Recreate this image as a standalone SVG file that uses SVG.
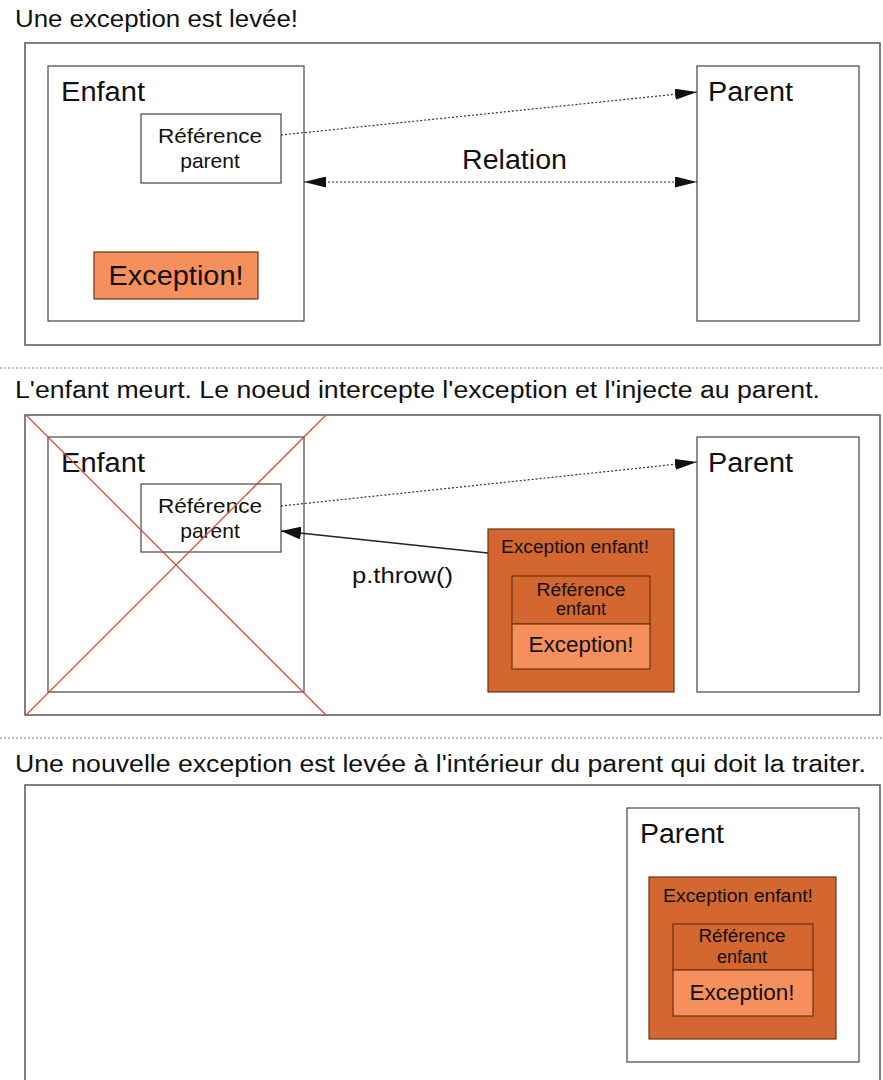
<svg xmlns="http://www.w3.org/2000/svg" width="883" height="1080" viewBox="0 0 883 1080">
  <style>
    text { font-family: "Liberation Sans", Arial, sans-serif; fill: #111; }
    .title { font-size: 23px; }
    .big { font-size: 27px; }
    .mid { font-size: 21px; }
    .small { font-size: 18px; }
    .exc { font-size: 22px; }
    .frame { fill: #fff; stroke: #555; stroke-width: 1.5; }
    .box { fill: #fff; stroke: #444; stroke-width: 1.2; }
    .dark { fill: #d4662f; stroke: #6b3215; stroke-width: 1.2; }
    .light { fill: #f5905c; stroke: #6b3215; stroke-width: 1.2; }
    .sep { stroke: #777; stroke-width: 1; stroke-dasharray: 2 2; }
    .dot { stroke: #333; stroke-width: 1.2; stroke-dasharray: 2 2; fill: none; }
    .solid { stroke: #222; stroke-width: 1.4; fill: none; }
    .cross { stroke: #d0533a; stroke-width: 1.3; }
  </style>
  <defs>
    <marker id="arrowL" viewBox="0 0 22 11" refX="22" refY="5.5" markerWidth="22" markerHeight="11" markerUnits="userSpaceOnUse" orient="auto-start-reverse">
      <path d="M0,0 L22,5.5 L0,11 z" fill="#111"/>
    </marker>
    <marker id="arrowS" viewBox="0 0 20 13" refX="20" refY="6.5" markerWidth="20" markerHeight="13" markerUnits="userSpaceOnUse" orient="auto">
      <path d="M0,0 L20,6.5 L0,13 z" fill="#111"/>
    </marker>
  </defs>
  <rect width="883" height="1080" fill="#fff"/>

  <!-- Step 1 -->
  <g id="step1">
    <text class="title" x="15" y="27" textLength="283" lengthAdjust="spacingAndGlyphs">Une exception est levée!</text>
    <rect class="frame" x="25" y="43" width="855" height="302"/>
  </g>
  <g id="enfant1">
    <rect class="box" x="48" y="66" width="256" height="255"/>
    <text class="big" x="61" y="101" textLength="84" lengthAdjust="spacingAndGlyphs">Enfant</text>
  </g>
  <g id="refparent1">
    <rect class="box" x="141" y="114" width="140" height="69"/>
    <text class="mid" x="210" y="143" text-anchor="middle" textLength="104" lengthAdjust="spacingAndGlyphs">Référence</text>
    <text class="mid" x="210" y="168" text-anchor="middle">parent</text>
  </g>
  <g id="exception1">
    <rect class="light" x="94" y="252" width="164" height="47"/>
    <text class="big" x="176" y="285" text-anchor="middle" textLength="135" lengthAdjust="spacingAndGlyphs">Exception!</text>
  </g>
  <g id="parent1">
    <rect class="box" x="697" y="66" width="162" height="255"/>
    <text class="big" x="708" y="101" textLength="85" lengthAdjust="spacingAndGlyphs">Parent</text>
  </g>
  <g id="relation-label">
    <text class="big" x="462" y="169" textLength="105" lengthAdjust="spacingAndGlyphs">Relation</text>
  </g>

  <line class="sep" x1="0" y1="368" x2="883" y2="368"/>

  <!-- Step 2 -->
  <g id="step2">
    <text class="title" x="15" y="398" textLength="805" lengthAdjust="spacingAndGlyphs">L'enfant meurt. Le noeud intercepte l'exception et l'injecte au parent.</text>
    <rect class="frame" x="25" y="415" width="855" height="300"/>
  </g>
  <g id="enfant2">
    <rect class="box" x="48" y="437" width="256" height="255"/>
    <text class="big" x="61" y="472" textLength="84" lengthAdjust="spacingAndGlyphs">Enfant</text>
  </g>
  <g id="refparent2">
    <rect class="box" x="141" y="484" width="140" height="68"/>
    <text class="mid" x="210" y="513" text-anchor="middle" textLength="104" lengthAdjust="spacingAndGlyphs">Référence</text>
    <text class="mid" x="210" y="538" text-anchor="middle">parent</text>
  </g>
  <g id="parent2">
    <rect class="box" x="697" y="437" width="162" height="255"/>
    <text class="big" x="708" y="472" textLength="85" lengthAdjust="spacingAndGlyphs">Parent</text>
  </g>
  <g id="exc-enfant2">
    <rect class="dark" x="488" y="529" width="186" height="163"/>
    <text class="small" x="575" y="553" text-anchor="middle" textLength="148" lengthAdjust="spacingAndGlyphs">Exception enfant!</text>
    <rect class="dark" x="512" y="576" width="138" height="48"/>
    <text class="small" x="581" y="596" text-anchor="middle" textLength="89" lengthAdjust="spacingAndGlyphs">Référence</text>
    <text class="small" x="581" y="615" text-anchor="middle">enfant</text>
    <rect class="light" x="512" y="624" width="138" height="45"/>
    <text class="exc" x="581" y="652" text-anchor="middle" textLength="105" lengthAdjust="spacingAndGlyphs">Exception!</text>
  </g>
  <g id="throw-label">
    <text class="exc" x="352" y="583" textLength="101" lengthAdjust="spacingAndGlyphs">p.throw()</text>
  </g>
  <g id="cross">
    <line class="cross" x1="26" y1="415" x2="326" y2="715"/>
    <line class="cross" x1="326" y1="415" x2="26" y2="715"/>
  </g>

  <line class="sep" x1="0" y1="738" x2="883" y2="738"/>

  <!-- Step 3 -->
  <g id="step3">
    <text class="title" x="15" y="772" textLength="851" lengthAdjust="spacingAndGlyphs">Une nouvelle exception est levée à l'intérieur du parent qui doit la traiter.</text>
    <rect class="frame" x="25" y="785" width="855" height="310"/>
  </g>
  <g id="parent3">
    <rect class="box" x="627" y="808" width="232" height="254"/>
    <text class="big" x="640" y="843" textLength="84" lengthAdjust="spacingAndGlyphs">Parent</text>
  </g>
  <g id="exc-enfant3">
    <rect class="dark" x="649" y="877" width="187" height="162"/>
    <text class="small" x="738" y="902" text-anchor="middle" textLength="150" lengthAdjust="spacingAndGlyphs">Exception enfant!</text>
    <rect class="dark" x="673" y="924" width="140" height="46"/>
    <text class="small" x="742" y="942" text-anchor="middle" textLength="87" lengthAdjust="spacingAndGlyphs">Référence</text>
    <text class="small" x="742" y="963" text-anchor="middle">enfant</text>
    <rect class="light" x="673" y="970" width="140" height="46"/>
    <text class="exc" x="742" y="1000" text-anchor="middle" textLength="105" lengthAdjust="spacingAndGlyphs">Exception!</text>
  </g>

  <!-- Connectors -->
  <g id="connectors">
    <line class="dot" x1="281" y1="135" x2="697" y2="92" marker-end="url(#arrowL)"/>
    <line class="dot" x1="304" y1="182" x2="697" y2="182" marker-start="url(#arrowL)" marker-end="url(#arrowL)"/>
    <line class="dot" x1="281" y1="506" x2="697" y2="462" marker-end="url(#arrowL)"/>
    <line class="solid" x1="488" y1="553" x2="281" y2="531" marker-end="url(#arrowS)"/>
  </g>
</svg>
